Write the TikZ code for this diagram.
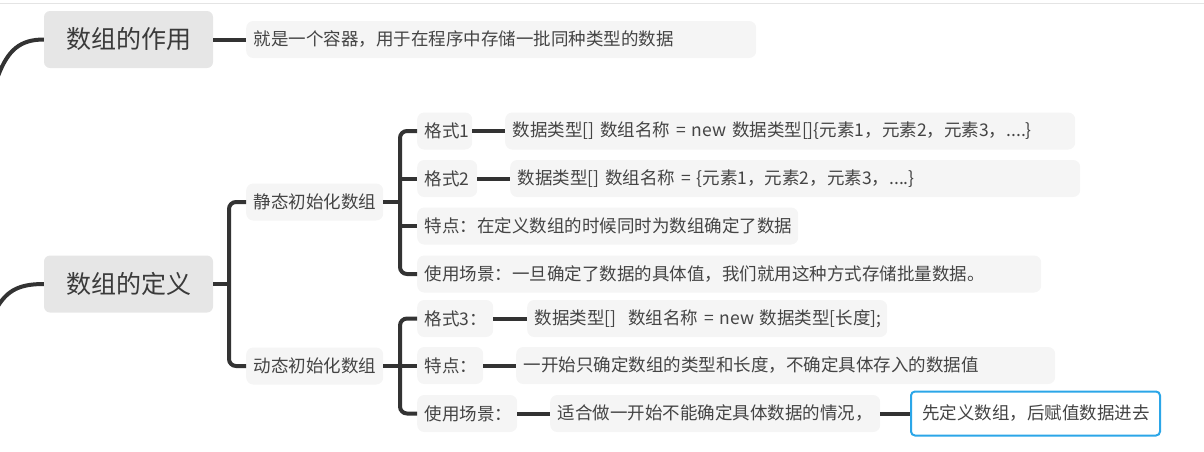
\documentclass[tikz,border=0pt]{standalone}
\usepackage{fontspec}
\setmainfont{Noto Sans CJK SC}
\definecolor{linec}{HTML}{333333}
\definecolor{rootgray}{HTML}{E6E6E6}
\definecolor{leafgray}{HTML}{F5F5F5}
\definecolor{txtc}{HTML}{444444}
\definecolor{roottxt}{HTML}{3A3A3A}
\definecolor{bluec}{HTML}{2BA6E8}
\definecolor{topgray}{HTML}{E4E4E4}
\begin{document}
\begin{tikzpicture}[x=1pt,y=-1pt,
  rootbox/.style={fill=rootgray, rounded corners=6pt, minimum width=169pt, minimum height=57pt, inner sep=0pt, font=\fontsize{25}{30}\selectfont, text=roottxt},
  leaf/.style={fill=leafgray, rounded corners=7pt, anchor=west, inner xsep=7.5pt, inner ysep=0pt, minimum height=37pt, align=left, font=\fontsize{17.5}{21}\selectfont, text=txtc},
  conn/.style={draw=linec, line width=4pt},
  bracket/.style={conn, rounded corners=7pt}]
\useasboundingbox (0,0) rectangle (1204,451);
\draw[topgray, line width=1pt] (0,3.5) -- (1204,3.5);
% roots
\node[rootbox] (r1) at (128.5,39.5) {数组的作用};
\node[rootbox] (r2) at (128.5,284) {数组的定义};
% first level
\node[leaf, text width=495pt] (d1) at (246,39.5) {就是一个容器，用于在程序中存储一批同种类型的数据};
\node[leaf, text width=122pt] (s1) at (246,202) {静态初始化数组};
\node[leaf, text width=122pt] (s2) at (246,366) {动态初始化数组};
% static
\node[leaf, text width=40pt] (a1) at (417,131) {格式1};
\node[leaf, text width=555pt] (a1d) at (505,131) {\mbox{数据类型[] 数组名称 = new 数据类型[]\{元素1，元素2，元素3，....\}}};
\node[leaf, text width=45pt] (a2) at (417,178.5) {格式2};
\node[leaf, text width=555pt] (a2d) at (510,178.5) {\mbox{数据类型[] 数组名称 = \{元素1，元素2，元素3，....\}}};
\node[leaf, text width=366pt] (a3) at (417,226) {特点：在定义数组的时候同时为数组确定了数据};
\node[leaf, text width=609pt] (a4) at (417,274) {使用场景：一旦确定了数据的具体值，我们就用这种方式存储批量数据。};
% dynamic
\node[leaf, text width=61pt] (b1) at (417,318.5) {格式3：};
\node[leaf, text width=345pt] (b1d) at (527,318.5) {\mbox{数据类型[]\ \ 数组名称 = new 数据类型[长度];}};
\node[leaf, text width=51pt] (b2) at (417,365.5) {特点：};
\node[leaf, text width=524pt] (b2d) at (516,365.5) {一开始只确定数组的类型和长度，不确定具体存入的数据值};
\node[leaf, text width=85pt] (b3) at (417,413.5) {使用场景：};
\node[leaf, text width=315pt] (b3d) at (550,413.5) {适合做一开始不能确定具体数据的情况，};
\node[leaf, fill=white, draw=bluec, line width=2pt, minimum height=44pt, inner xsep=11pt, text width=227pt, rounded corners=4pt] (b3e) at (910,413.5) {先定义数组，后赋值数据进去};
% left incoming curves
\coordinate (e1) at (-2,76);
\coordinate (e2) at (-2,306);
\draw[conn] (e1) .. controls (8,50) and (20,39.5) .. (r1.west);
\draw[conn] (e2) .. controls (8,290) and (20,284) .. (r2.west);
% connectors
\draw[conn] (r1.east) -- (d1.west);
\coordinate (j0) at (229,284);
\draw[conn] (r2.east) -- (j0);
\draw[bracket] (s1.west) -| (j0 |- s2.west) -- (s2.west);
\coordinate (j1) at (400,202);
\draw[conn] (s1.east) -- (j1);
\draw[bracket] (a1.west) -| (j1 |- a4.west) -- (a4.west);
\draw[conn] (j1 |- a2.west) -- (a2.west);
\draw[conn] (j1 |- a3.west) -- (a3.west);
\draw[conn] (a1.east) -- (a1d.west);
\draw[conn] (a2.east) -- (a2d.west);
\coordinate (j2) at (400,366);
\draw[conn] (s2.east) -- (j2);
\draw[bracket] (b1.west) -| (j2 |- b3.west) -- (b3.west);
\draw[conn] (j2 |- b2.west) -- (b2.west);
\draw[conn] (b1.east) -- (b1d.west);
\draw[conn] (b2.east) -- (b2d.west);
\draw[conn] (b3.east) -- (b3d.west);
\draw[conn] (b3d.east) -- (b3e.west);
\end{tikzpicture}
\end{document}
